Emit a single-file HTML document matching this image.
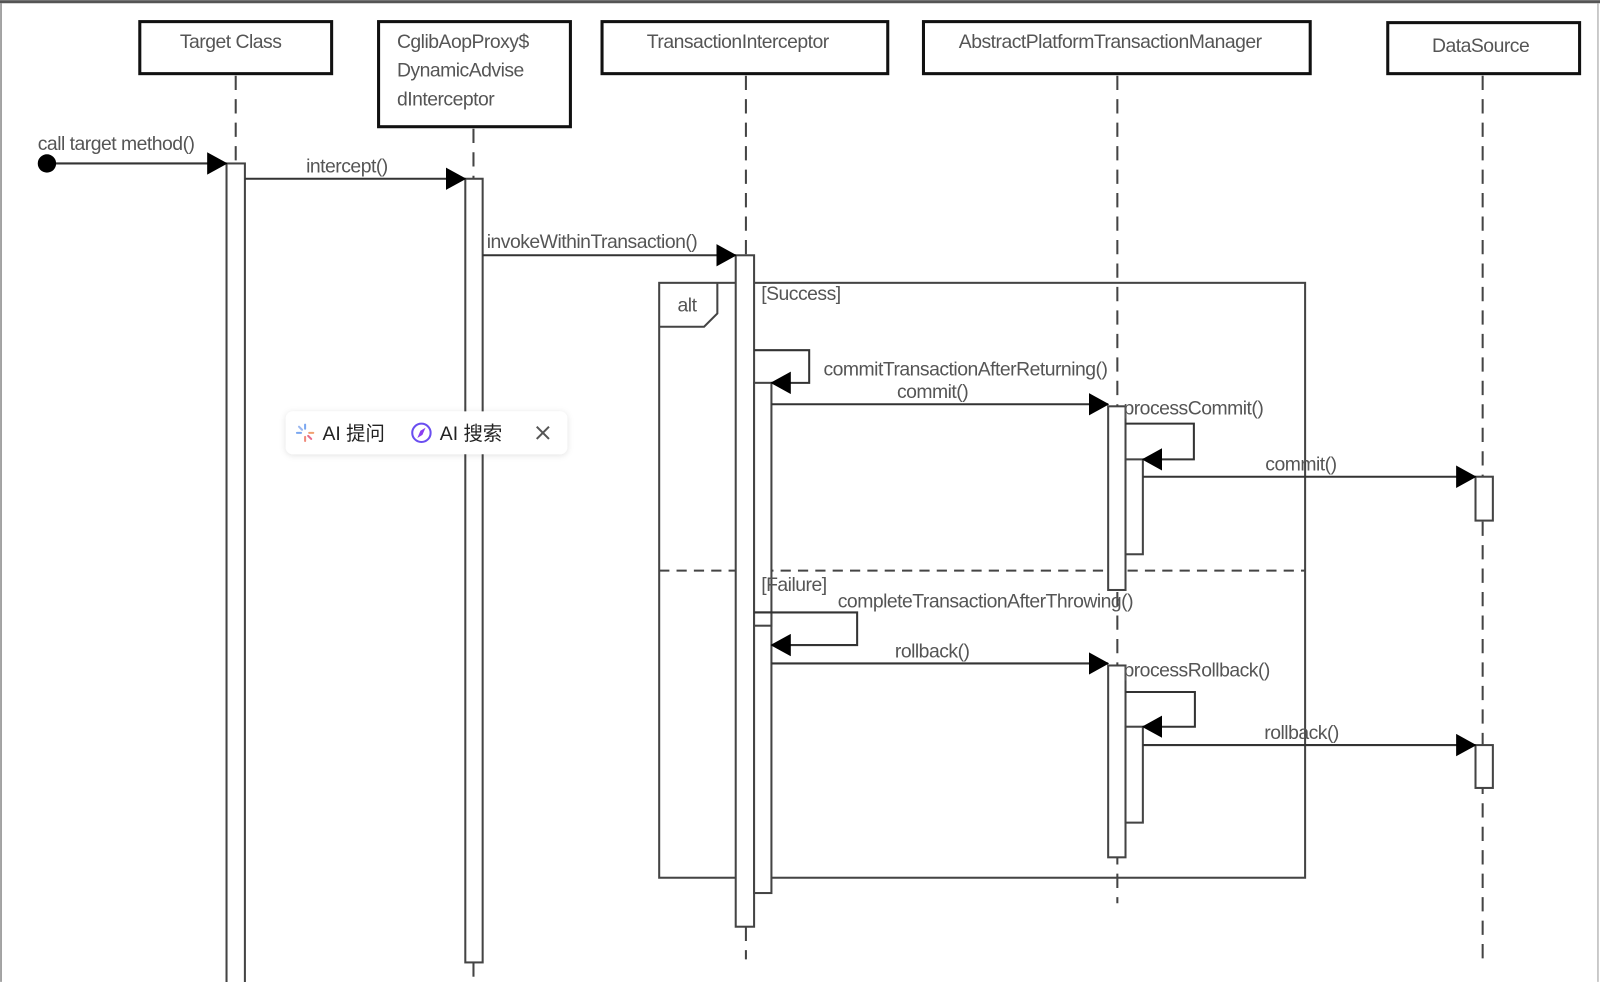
<!DOCTYPE html>
<html><head><meta charset="utf-8"><style>
html,body{margin:0;padding:0;background:#fff;width:1600px;height:982px;overflow:hidden}
svg{display:block}
text{font-family:"Liberation Sans","Noto Sans CJK SC",sans-serif;fill:#555;font-size:19px;letter-spacing:-0.5px}
</style></head><body>
<svg width="1600" height="982" viewBox="0 0 1568 962" xmlns="http://www.w3.org/2000/svg">
<defs>
<marker id="a" markerWidth="20" markerHeight="22" refX="19" refY="11" orient="auto" markerUnits="userSpaceOnUse"><path d="M0,0 L20,11 L0,22 Z" fill="#000"/></marker>
<filter id="sh" x="-10%" y="-30%" width="120%" height="160%"><feDropShadow dx="0" dy="1" stdDeviation="3" flood-color="#000" flood-opacity="0.12"/></filter>
</defs>
<rect x="0" y="0" width="1568" height="3" fill="#555"/>
<line x1="1" y1="3" x2="1" y2="962" stroke="#888" stroke-width="1.5"/>
<line x1="1566" y1="3" x2="1566" y2="962" stroke="#bbb" stroke-width="1.5"/>
<g fill="#fff" stroke="#111" stroke-width="3">
<rect x="137" y="21" width="188" height="51"/>
<rect x="371" y="21" width="188" height="103"/>
<rect x="590" y="21" width="280" height="51"/>
<rect x="905" y="21" width="379" height="51"/>
<rect x="1360" y="22" width="188" height="50"/>
</g>
<text x="226" y="47" text-anchor="middle">Target Class</text>
<text x="389" y="47">CglibAopProxy$</text>
<text x="389" y="75">DynamicAdvise</text>
<text x="389" y="103">dInterceptor</text>
<text x="723" y="47" text-anchor="middle">TransactionInterceptor</text>
<text x="1088" y="47" text-anchor="middle">AbstractPlatformTransactionManager</text>
<text x="1451" y="51" text-anchor="middle">DataSource</text>
<g stroke="#444" stroke-width="2" stroke-dasharray="14,9" fill="none">
<line x1="231" y1="74" x2="231" y2="160"/>
<line x1="464" y1="126" x2="464" y2="175"/>
<line x1="464" y1="943" x2="464" y2="962"/>
<line x1="731" y1="74" x2="731" y2="250"/>
<line x1="731" y1="908" x2="731" y2="940"/>
<line x1="1095" y1="74" x2="1095" y2="885"/>
<line x1="1453" y1="74" x2="1453" y2="945"/>
</g>
<rect x="646" y="277" width="633" height="583" fill="none" stroke="#444" stroke-width="2"/>
<path d="M646,320 L690,320 L703,307 L703,277" fill="none" stroke="#444" stroke-width="2"/>
<text x="664" y="305">alt</text>
<line x1="646" y1="559" x2="1279" y2="559" stroke="#444" stroke-width="2" stroke-dasharray="10,7"/>
<g fill="#fff" stroke="#444" stroke-width="2">
<rect x="222" y="160" width="18" height="810"/>
<rect x="456" y="175" width="17" height="768"/>
<rect x="721" y="250" width="18" height="658"/>
<rect x="739" y="375" width="17" height="500"/>
<rect x="739" y="600" width="17" height="13"/>
<rect x="1086" y="398" width="17" height="180"/>
<rect x="1103" y="450" width="17" height="93"/>
<rect x="1086" y="652" width="17" height="188"/>
<rect x="1103" y="712" width="17" height="94"/>
<rect x="1446" y="467" width="17" height="43"/>
<rect x="1446" y="730" width="17" height="42"/>
</g>
<g stroke="#333" stroke-width="2" fill="none" marker-end="url(#a)">
<line x1="46" y1="160" x2="222" y2="160"/>
<line x1="240" y1="175" x2="456" y2="175"/>
<line x1="473" y1="250" x2="721" y2="250"/>
<polyline points="739,343 793,343 793,375 756,375"/>
<line x1="756" y1="396" x2="1086" y2="396"/>
<polyline points="1103,415 1170,415 1170,450 1120,450"/>
<line x1="1120" y1="467" x2="1446" y2="467"/>
<polyline points="739,600 840,600 840,632 756,632"/>
<line x1="756" y1="650" x2="1086" y2="650"/>
<polyline points="1103,678 1171,678 1171,712 1120,712"/>
<line x1="1120" y1="730" x2="1446" y2="730"/>
</g>
<circle cx="46" cy="160" r="9" fill="#000"/>
<text x="37" y="147">call target method()</text>
<text x="300" y="169">intercept()</text>
<text x="477" y="243">invokeWithinTransaction()</text>
<text x="746" y="294">[Success]</text>
<text x="807" y="368">commitTransactionAfterReturning()</text>
<text x="879" y="390">commit()</text>
<text x="1101" y="406">processCommit()</text>
<text x="1240" y="461">commit()</text>
<text x="746" y="579">[Failure]</text>
<text x="821" y="595">completeTransactionAfterThrowing()</text>
<text x="877" y="644">rollback()</text>
<text x="1101" y="663">processRollback()</text>
<text x="1239" y="724">rollback()</text>
<rect x="280" y="403" width="276" height="42" rx="7" fill="#fff" filter="url(#sh)"/>
<g stroke-width="2" stroke-linecap="round">
<line x1="299" y1="416" x2="299" y2="420" stroke="#7aa7f0"/>
<line x1="299" y1="428" x2="299" y2="432" stroke="#f08a7a"/>
<line x1="291" y1="424" x2="295" y2="424" stroke="#7aa7f0"/>
<line x1="303" y1="424" x2="307" y2="424" stroke="#f0a070"/>
<line x1="293" y1="418" x2="296" y2="421" stroke="#9bb8f0"/>
<line x1="302" y1="427" x2="305" y2="430" stroke="#e86a8a"/>
</g>
<text x="316" y="431" style="fill:#222;font-size:19px;letter-spacing:0">AI 提问</text>
<circle cx="413" cy="424" r="9" fill="none" stroke="#6a4ef0" stroke-width="2"/>
<path d="M417,419 L414,426 L409,429 L412,422 Z" fill="#8a3ef0"/>
<text x="431" y="431" style="fill:#222;font-size:19px;letter-spacing:0">AI 搜索</text>
<path d="M526,418 L538,430 M538,418 L526,430" stroke="#555" stroke-width="2"/>
</svg>
</body></html>
